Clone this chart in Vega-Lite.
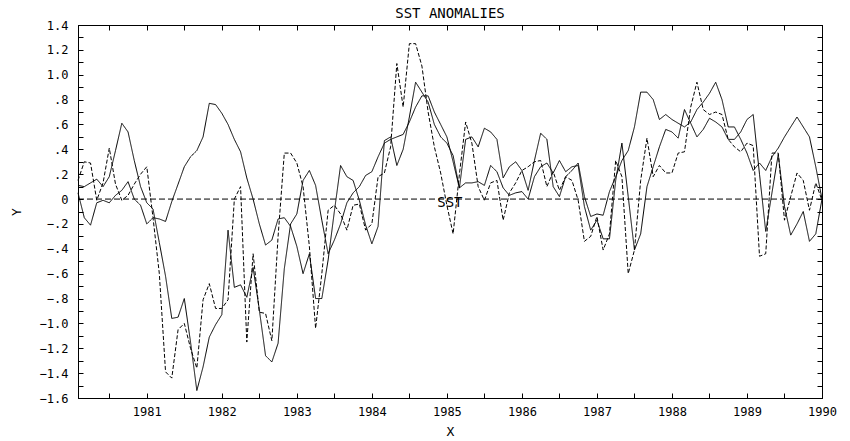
{
  "$schema": "https://vega.github.io/schema/vega-lite/v6.json",
  "width": 744,
  "height": 373,
  "autosize": {"type": "none"},
  "padding": {"left": 78, "top": 25, "right": 28, "bottom": 43},
  "background": "white",
  "title": {"text": "SST ANOMALIES", "font": "DejaVu Sans Mono", "fontSize": 14, "fontWeight": "normal", "color": "black", "offset": -2},
  "config": {
    "view": {"stroke": "black", "strokeWidth": 1},
    "axis": {"domainColor": "black", "tickColor": "black", "labelColor": "black", "titleColor": "black", "grid": false, "labelFont": "DejaVu Sans Mono", "labelFontSize": 12, "titleFont": "DejaVu Sans Mono", "titleFontSize": 13, "titleFontWeight": "normal", "tickSize": -5, "labelFlush": false, "labelOverlap": false}
  },
  "datasets": {
    "labels": [{"x": 1985.04, "y": 0, "text": "SST"}],
    "sst": [
      {"t": 1980.083, "s1": 0.11, "s2": 0.05, "s3": 0.15},
      {"t": 1980.167, "s1": 0.10, "s2": -0.15, "s3": 0.30},
      {"t": 1980.25, "s1": 0.13, "s2": -0.21, "s3": 0.29},
      {"t": 1980.333, "s1": 0.16, "s2": -0.03, "s3": -0.01},
      {"t": 1980.417, "s1": 0.10, "s2": -0.01, "s3": 0.13},
      {"t": 1980.5, "s1": 0.18, "s2": -0.03, "s3": 0.41},
      {"t": 1980.583, "s1": 0.39, "s2": 0.03, "s3": 0.12},
      {"t": 1980.667, "s1": 0.61, "s2": 0.07, "s3": -0.01},
      {"t": 1980.75, "s1": 0.54, "s2": 0.14, "s3": 0.03},
      {"t": 1980.833, "s1": 0.31, "s2": 0.00, "s3": 0.12},
      {"t": 1980.917, "s1": 0.10, "s2": -0.05, "s3": 0.20},
      {"t": 1981.0, "s1": -0.03, "s2": -0.20, "s3": 0.26},
      {"t": 1981.083, "s1": -0.08, "s2": -0.15, "s3": -0.15},
      {"t": 1981.167, "s1": -0.35, "s2": -0.16, "s3": -0.60},
      {"t": 1981.25, "s1": -0.62, "s2": -0.18, "s3": -1.39},
      {"t": 1981.333, "s1": -0.96, "s2": -0.02, "s3": -1.44},
      {"t": 1981.417, "s1": -0.95, "s2": 0.12, "s3": -1.05},
      {"t": 1981.5, "s1": -0.80, "s2": 0.26, "s3": -1.00},
      {"t": 1981.583, "s1": -1.15, "s2": 0.34, "s3": -1.20},
      {"t": 1981.667, "s1": -1.54, "s2": 0.39, "s3": -1.36},
      {"t": 1981.75, "s1": -1.35, "s2": 0.50, "s3": -0.81},
      {"t": 1981.833, "s1": -1.11, "s2": 0.77, "s3": -0.68},
      {"t": 1981.917, "s1": -1.01, "s2": 0.76, "s3": -0.88},
      {"t": 1982.0, "s1": -0.93, "s2": 0.69, "s3": -0.88},
      {"t": 1982.083, "s1": -0.25, "s2": 0.60, "s3": -0.81},
      {"t": 1982.167, "s1": -0.71, "s2": 0.48, "s3": 0.00},
      {"t": 1982.25, "s1": -0.69, "s2": 0.38, "s3": 0.10},
      {"t": 1982.333, "s1": -0.79, "s2": 0.17, "s3": -1.15},
      {"t": 1982.417, "s1": -0.55, "s2": 0.00, "s3": -0.44},
      {"t": 1982.5, "s1": -0.89, "s2": -0.20, "s3": -0.91},
      {"t": 1982.583, "s1": -1.26, "s2": -0.37, "s3": -0.92},
      {"t": 1982.667, "s1": -1.31, "s2": -0.33, "s3": -1.14},
      {"t": 1982.75, "s1": -1.16, "s2": -0.16, "s3": -0.30},
      {"t": 1982.833, "s1": -0.56, "s2": -0.15, "s3": 0.37},
      {"t": 1982.917, "s1": -0.20, "s2": -0.22, "s3": 0.37},
      {"t": 1983.0, "s1": -0.12, "s2": -0.38, "s3": 0.29},
      {"t": 1983.083, "s1": 0.15, "s2": -0.60, "s3": 0.10},
      {"t": 1983.167, "s1": 0.23, "s2": -0.44, "s3": -0.38},
      {"t": 1983.25, "s1": 0.11, "s2": -0.80, "s3": -1.04},
      {"t": 1983.333, "s1": -0.17, "s2": -0.80, "s3": -0.60},
      {"t": 1983.417, "s1": -0.44, "s2": -0.49, "s3": -0.09},
      {"t": 1983.5, "s1": -0.33, "s2": -0.10, "s3": -0.05},
      {"t": 1983.583, "s1": -0.20, "s2": 0.27, "s3": -0.12},
      {"t": 1983.667, "s1": -0.03, "s2": 0.18, "s3": -0.25},
      {"t": 1983.75, "s1": 0.05, "s2": 0.15, "s3": -0.05},
      {"t": 1983.833, "s1": 0.10, "s2": -0.01, "s3": -0.04},
      {"t": 1983.917, "s1": 0.19, "s2": -0.21, "s3": -0.25},
      {"t": 1984.0, "s1": 0.22, "s2": -0.36, "s3": -0.20},
      {"t": 1984.083, "s1": 0.34, "s2": -0.22, "s3": 0.18},
      {"t": 1984.167, "s1": 0.45, "s2": 0.47, "s3": 0.21},
      {"t": 1984.25, "s1": 0.48, "s2": 0.50, "s3": 0.42},
      {"t": 1984.333, "s1": 0.50, "s2": 0.27, "s3": 1.09},
      {"t": 1984.417, "s1": 0.52, "s2": 0.40, "s3": 0.74},
      {"t": 1984.5, "s1": 0.62, "s2": 0.66, "s3": 1.25},
      {"t": 1984.583, "s1": 0.74, "s2": 0.94, "s3": 1.25},
      {"t": 1984.667, "s1": 0.83, "s2": 0.86, "s3": 1.07},
      {"t": 1984.75, "s1": 0.83, "s2": 0.78, "s3": 0.70},
      {"t": 1984.833, "s1": 0.70, "s2": 0.60, "s3": 0.42},
      {"t": 1984.917, "s1": 0.60, "s2": 0.50, "s3": 0.21},
      {"t": 1985.0, "s1": 0.50, "s2": 0.45, "s3": -0.05},
      {"t": 1985.083, "s1": 0.30, "s2": 0.35, "s3": -0.28},
      {"t": 1985.167, "s1": 0.09, "s2": 0.09, "s3": 0.20},
      {"t": 1985.25, "s1": 0.13, "s2": 0.48, "s3": 0.62},
      {"t": 1985.333, "s1": 0.13, "s2": 0.50, "s3": 0.45},
      {"t": 1985.417, "s1": 0.14, "s2": 0.42, "s3": 0.10},
      {"t": 1985.5, "s1": 0.11, "s2": 0.57, "s3": -0.01},
      {"t": 1985.583, "s1": 0.27, "s2": 0.54, "s3": 0.13},
      {"t": 1985.667, "s1": 0.22, "s2": 0.48, "s3": 0.15},
      {"t": 1985.75, "s1": 0.09, "s2": 0.17, "s3": -0.17},
      {"t": 1985.833, "s1": 0.03, "s2": 0.26, "s3": 0.05},
      {"t": 1985.917, "s1": 0.05, "s2": 0.30, "s3": 0.13},
      {"t": 1986.0, "s1": 0.06, "s2": 0.23, "s3": 0.23},
      {"t": 1986.083, "s1": 0.00, "s2": 0.07, "s3": 0.26},
      {"t": 1986.167, "s1": 0.18, "s2": 0.31, "s3": 0.30},
      {"t": 1986.25, "s1": 0.26, "s2": 0.53, "s3": 0.31},
      {"t": 1986.333, "s1": 0.29, "s2": 0.48, "s3": 0.10},
      {"t": 1986.417, "s1": 0.21, "s2": 0.10, "s3": 0.22},
      {"t": 1986.5, "s1": 0.31, "s2": 0.02, "s3": 0.07},
      {"t": 1986.583, "s1": 0.22, "s2": 0.18, "s3": 0.18},
      {"t": 1986.667, "s1": 0.26, "s2": 0.23, "s3": 0.15},
      {"t": 1986.75, "s1": 0.27, "s2": 0.29, "s3": -0.01},
      {"t": 1986.833, "s1": -0.06, "s2": 0.02, "s3": -0.34},
      {"t": 1986.917, "s1": -0.25, "s2": -0.14, "s3": -0.30},
      {"t": 1987.0, "s1": -0.17, "s2": -0.12, "s3": -0.14},
      {"t": 1987.083, "s1": -0.32, "s2": -0.13, "s3": -0.41},
      {"t": 1987.167, "s1": -0.32, "s2": 0.06, "s3": -0.28},
      {"t": 1987.25, "s1": 0.15, "s2": 0.18, "s3": 0.31},
      {"t": 1987.333, "s1": 0.45, "s2": 0.31, "s3": 0.18},
      {"t": 1987.417, "s1": 0.02, "s2": 0.39, "s3": -0.60},
      {"t": 1987.5, "s1": -0.41, "s2": 0.58, "s3": -0.41},
      {"t": 1987.583, "s1": -0.28, "s2": 0.86, "s3": 0.15},
      {"t": 1987.667, "s1": 0.10, "s2": 0.86, "s3": 0.49},
      {"t": 1987.75, "s1": 0.26, "s2": 0.80, "s3": 0.18},
      {"t": 1987.833, "s1": 0.42, "s2": 0.64, "s3": 0.27},
      {"t": 1987.917, "s1": 0.56, "s2": 0.68, "s3": 0.21},
      {"t": 1988.0, "s1": 0.54, "s2": 0.64, "s3": 0.21},
      {"t": 1988.083, "s1": 0.49, "s2": 0.61, "s3": 0.37},
      {"t": 1988.167, "s1": 0.72, "s2": 0.58, "s3": 0.38},
      {"t": 1988.25, "s1": 0.61, "s2": 0.62, "s3": 0.74},
      {"t": 1988.333, "s1": 0.50, "s2": 0.72, "s3": 0.94},
      {"t": 1988.417, "s1": 0.56, "s2": 0.78, "s3": 0.72},
      {"t": 1988.5, "s1": 0.65, "s2": 0.85, "s3": 0.68},
      {"t": 1988.583, "s1": 0.62, "s2": 0.94, "s3": 0.70},
      {"t": 1988.667, "s1": 0.58, "s2": 0.80, "s3": 0.68},
      {"t": 1988.75, "s1": 0.48, "s2": 0.58, "s3": 0.48},
      {"t": 1988.833, "s1": 0.48, "s2": 0.58, "s3": 0.42},
      {"t": 1988.917, "s1": 0.54, "s2": 0.48, "s3": 0.38},
      {"t": 1989.0, "s1": 0.64, "s2": 0.37, "s3": 0.45},
      {"t": 1989.083, "s1": 0.68, "s2": 0.23, "s3": 0.43},
      {"t": 1989.167, "s1": 0.20, "s2": 0.29, "s3": -0.46},
      {"t": 1989.25, "s1": -0.26, "s2": 0.23, "s3": -0.44},
      {"t": 1989.333, "s1": 0.05, "s2": 0.34, "s3": 0.37},
      {"t": 1989.417, "s1": 0.36, "s2": 0.41, "s3": 0.37},
      {"t": 1989.5, "s1": -0.06, "s2": 0.50, "s3": -0.17},
      {"t": 1989.583, "s1": -0.29, "s2": 0.58, "s3": 0.02},
      {"t": 1989.667, "s1": -0.20, "s2": 0.66, "s3": 0.21},
      {"t": 1989.75, "s1": -0.10, "s2": 0.58, "s3": 0.15},
      {"t": 1989.833, "s1": -0.34, "s2": 0.50, "s3": -0.09},
      {"t": 1989.917, "s1": -0.28, "s2": 0.26, "s3": 0.13},
      {"t": 1990.0, "s1": 0.00, "s2": 0.00, "s3": -0.01}
    ]
  },
  "layer": [
    {
      "data": {"name": "labels"},
      "mark": {"type": "rule", "strokeDash": [6, 3], "color": "black", "strokeWidth": 1},
      "encoding": {"y": {"datum": 0, "type": "quantitative", "axis": null}}
    },
    {
      "data": {"name": "sst"},
      "transform": [{"fold": ["s1", "s2", "s3"], "as": ["series", "value"]}],
      "mark": {"type": "line", "color": "black", "strokeWidth": 1},
      "encoding": {
        "x": {
          "field": "t", "type": "quantitative",
          "scale": {"domain": [1980.083, 1990], "nice": false, "zero": false},
          "axis": {"orient": "bottom", "values": [1980.5, 1981, 1981.5, 1982, 1982.5, 1983, 1983.5, 1984, 1984.5, 1985, 1985.5, 1986, 1986.5, 1987, 1987.5, 1988, 1988.5, 1989, 1989.5, 1990], "labelExpr": "datum.value % 1 != 0 ? '' : format(datum.value, 'd')", "labelPadding": 13, "title": "X", "titlePadding": 8}
        },
        "y": {
          "field": "value", "type": "quantitative",
          "scale": {"domain": [-1.6, 1.4], "nice": false, "zero": false},
          "axis": {"orient": "left", "values": [-1.6, -1.5, -1.4, -1.3, -1.2, -1.1, -1.0, -0.9, -0.8, -0.7, -0.6, -0.5, -0.4, -0.3, -0.2, -0.1, 0, 0.1, 0.2, 0.3, 0.4, 0.5, 0.6, 0.7, 0.8, 0.9, 1.0, 1.1, 1.2, 1.3, 1.4], "labelExpr": "abs(round(datum.value*10)) % 2 == 1 ? '' : (abs(datum.value) < 0.01 ? '0' : replace(format(datum.value, '.1f'), '0.', '.'))", "labelPadding": 15, "title": "Y", "titlePadding": 16}
        },
        "strokeDash": {"field": "series", "type": "nominal", "scale": {"domain": ["s1", "s2", "s3"], "range": [[1, 0], [1, 0], [4, 2]]}, "legend": null}
      }
    },
    {
      "data": {"name": "labels"},
      "mark": {"type": "text", "font": "DejaVu Sans Mono", "fontSize": 14, "baseline": "middle", "dy": 4, "color": "black"},
      "encoding": {
        "x": {"field": "x", "type": "quantitative", "axis": {"orient": "top", "values": [1980.5, 1981, 1981.5, 1982, 1982.5, 1983, 1983.5, 1984, 1984.5, 1985, 1985.5, 1986, 1986.5, 1987, 1987.5, 1988, 1988.5, 1989, 1989.5, 1990], "labels": false, "title": null}},
        "y": {"field": "y", "type": "quantitative", "axis": {"orient": "right", "values": [-1.6, -1.5, -1.4, -1.3, -1.2, -1.1, -1.0, -0.9, -0.8, -0.7, -0.6, -0.5, -0.4, -0.3, -0.2, -0.1, 0, 0.1, 0.2, 0.3, 0.4, 0.5, 0.6, 0.7, 0.8, 0.9, 1.0, 1.1, 1.2, 1.3, 1.4], "labels": false, "title": null}},
        "text": {"field": "text"}
      }
    }
  ],
  "resolve": {"axis": {"x": "independent", "y": "independent"}}
}
